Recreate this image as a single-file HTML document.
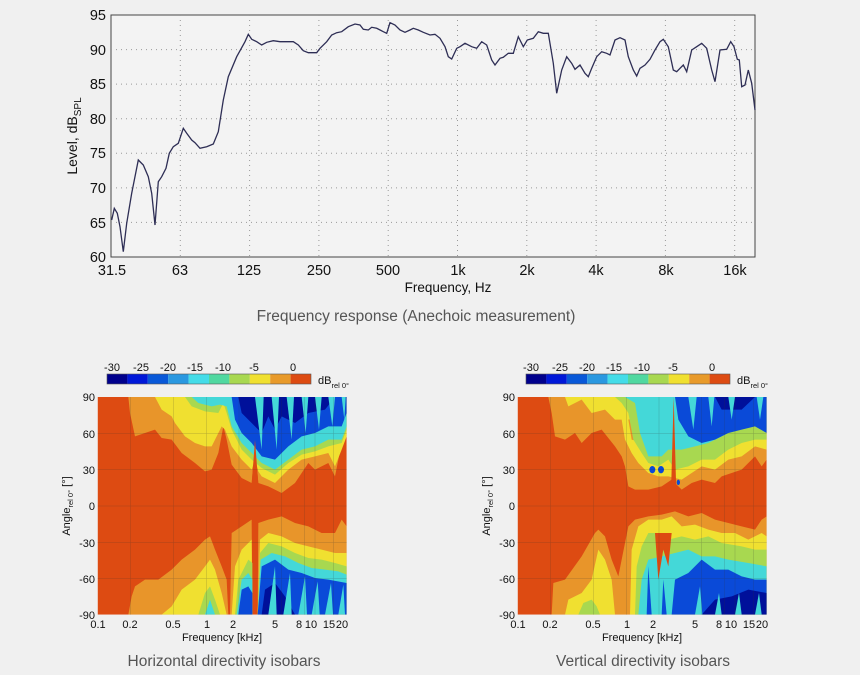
<!DOCTYPE html>
<html><head><meta charset="utf-8"><style>
html,body{margin:0;padding:0;background:#f0f0f0;}
body{width:860px;height:675px;overflow:hidden;position:relative;font-family:"Liberation Sans",sans-serif;}
svg{position:absolute;left:0;top:0;}
</style></head><body>
<svg width="860" height="675" viewBox="0 0 860 675" xmlns="http://www.w3.org/2000/svg" font-family="Liberation Sans, sans-serif">
<!-- top chart -->
<rect x="111" y="15" width="644" height="242" fill="#f3f3f3" stroke="#444" stroke-width="1"/>
<g stroke="#999" stroke-width="1" stroke-dasharray="1,4">
<line x1="111" y1="49.6" x2="755" y2="49.6"/><line x1="111" y1="84.1" x2="755" y2="84.1"/><line x1="111" y1="118.7" x2="755" y2="118.7"/><line x1="111" y1="153.3" x2="755" y2="153.3"/><line x1="111" y1="187.9" x2="755" y2="187.9"/><line x1="111" y1="222.4" x2="755" y2="222.4"/>
<line x1="180.3" y1="15" x2="180.3" y2="257"/><line x1="249.6" y1="15" x2="249.6" y2="257"/><line x1="318.9" y1="15" x2="318.9" y2="257"/><line x1="388.2" y1="15" x2="388.2" y2="257"/><line x1="457.5" y1="15" x2="457.5" y2="257"/><line x1="526.8" y1="15" x2="526.8" y2="257"/><line x1="596.1" y1="15" x2="596.1" y2="257"/><line x1="665.4" y1="15" x2="665.4" y2="257"/><line x1="734.7" y1="15" x2="734.7" y2="257"/>
</g>
<polyline fill="none" stroke="#2e2e55" stroke-width="1.3" points="111.7,220 114.3,208.3 117.3,213.3 120,226.7 123.3,251.7 126.7,223.3 131.7,193.3 138.3,160 143.3,165 148.3,176.7 151.7,193.3 155,225 158.3,181.7 161.7,176.7 166,168.3 169.3,153.3 173.3,146.7 178.3,143.3 183.3,128.3 186.7,133.3 191.7,140 195,142.7 200,148.3 206.7,146.7 213.3,144 218.3,131.7 223.3,100 228.3,76.7 236.7,56.7 245,41.7 248.3,34.3 251.7,39.3 256.7,41.7 261.7,45 266.7,42.3 273.3,40.7 280,41.7 286.7,41.7 293.3,41.7 298.3,45 303.3,50.7 308.3,52.7 316.7,52.7 320,48.3 326.7,41.7 331.7,35 336.7,32.7 341.7,31.7 348.3,26.7 355,24 360,25 363.3,29.3 368.3,30 371.7,27.3 376.7,28.3 383.3,31.7 386.7,33.3 390,22.7 395,25 400,30 405,32.3 410,30 413.3,28.3 418.3,30 423.3,32.3 430,35 435,34.3 440,38.3 445,46.7 448.3,56.7 451.7,59 456.7,48.3 460,46.7 465,43.3 471.7,46.7 476.7,48.3 481.7,41.7 486.7,45 491.7,60 495,65 500,58.3 503.3,57.3 508.3,53.3 513.3,53.3 518.3,36.7 523.3,46.7 527.3,40 533.3,38.3 538.3,31.7 543.3,33.3 548.3,33.3 553.3,63.3 556.7,93.3 561.7,70 566.7,56.7 571.7,63.3 575,69.3 580,65 585,73.3 588.3,76.7 591.7,68.3 596.7,56.7 601.7,51.7 606.7,53.3 610,55 615,40 620,37.7 625,40 628.3,56.7 633.3,70 636.7,76 640,68.3 645,65 650,59.3 655,50 660,41.7 663.3,39.3 668.3,46.7 673.3,70 676.7,71.7 680,68.3 683.3,65 686.7,71.7 691.7,50 696.7,46.7 701.7,43.3 706.7,48.3 711.7,70 715,81.7 720,50 726.7,49.3 730.7,41.7 734,46.7 737.3,59.3 739.3,60 741.7,86.7 745,85 748.3,70 751.7,83.3 755,110"/>
<g font-size="14.5" fill="#111" text-anchor="end">
<text x="106" y="20">95</text><text x="106" y="55">90</text><text x="106" y="89">85</text><text x="106" y="124">80</text><text x="106" y="158">75</text><text x="106" y="193">70</text><text x="106" y="228">65</text><text x="106" y="262">60</text>
</g>
<g font-size="14.5" fill="#111" text-anchor="middle">
<text x="112" y="275">31.5</text><text x="180" y="275">63</text><text x="249" y="275">125</text><text x="319" y="275">250</text><text x="388" y="275">500</text><text x="458" y="275">1k</text><text x="527" y="275">2k</text><text x="596" y="275">4k</text><text x="666" y="275">8k</text><text x="735" y="275">16k</text>
<text x="448" y="292" font-size="13.5">Frequency, Hz</text>
</g>
<text transform="translate(77,136) rotate(-90)" font-size="14" fill="#111" text-anchor="middle">Level, dB<tspan font-size="10" dy="4">SPL</tspan></text>
<text x="416" y="321" font-size="15.5" fill="#555" text-anchor="middle">Frequency response (Anechoic measurement)</text>

<!-- colorbars -->
<g id="cb">
<rect x="107" y="374" width="20.4" height="10" fill="#00008c"/><rect x="127.4" y="374" width="20.4" height="10" fill="#0018d8"/><rect x="147.8" y="374" width="20.4" height="10" fill="#0858d8"/><rect x="168.2" y="374" width="20.4" height="10" fill="#2a98e0"/><rect x="188.6" y="374" width="20.4" height="10" fill="#44dce8"/><rect x="209" y="374" width="20.4" height="10" fill="#50d8a0"/><rect x="229.4" y="374" width="20.4" height="10" fill="#a8d850"/><rect x="249.8" y="374" width="20.4" height="10" fill="#f0e030"/><rect x="270.2" y="374" width="20.4" height="10" fill="#e89a2a"/><rect x="290.6" y="374" width="20.4" height="10" fill="#dd4b12"/>
<rect x="107" y="374" width="204" height="10" fill="none" stroke="#555" stroke-width="0.6"/>
<g font-size="11" fill="#111" text-anchor="middle"><text x="112" y="371">-30</text><text x="141" y="371">-25</text><text x="168" y="371">-20</text><text x="195" y="371">-15</text><text x="223" y="371">-10</text><text x="254" y="371">-5</text><text x="293" y="371">0</text></g>
<text x="318" y="384" font-size="11" fill="#111">dB<tspan font-size="7.5" dy="4">rel 0°</tspan></text>
</g>
<use href="#cb" x="419"/>

<defs>
<clipPath id="cl"><rect x="8" y="12" width="747" height="653"/></clipPath>
<g id="grid" stroke="#333" stroke-width="1.5" opacity="0.3">
<line x1="8" y1="121" x2="755" y2="121"/><line x1="8" y1="230" x2="755" y2="230"/><line x1="8" y1="339" x2="755" y2="339"/><line x1="8" y1="448" x2="755" y2="448"/><line x1="8" y1="557" x2="755" y2="557"/>
<line x1="106" y1="12" x2="106" y2="665"/><line x1="235" y1="12" x2="235" y2="665"/><line x1="335" y1="12" x2="335" y2="665"/><line x1="432" y1="12" x2="432" y2="665"/><line x1="560" y1="12" x2="560" y2="665"/><line x1="628" y1="12" x2="628" y2="665"/><line x1="660" y1="12" x2="660" y2="665"/><line x1="715" y1="12" x2="715" y2="665"/>
</g>
</defs>

<!-- Horizontal heatmap (zoom coords, 3x) -->
<g transform="translate(95,393) scale(0.33333)">
<g clip-path="url(#cl)">
<rect x="8" y="12" width="747" height="653" fill="#dd4b12"/>
<polygon fill="#e8952a" points="100,12 105,60 120,130 150,120 180,110 200,135 230,140 260,180 300,210 330,235 350,230 370,180 385,100 395,140 410,215 440,255 470,270 480,150 490,270 520,280 560,300 600,270 640,210 660,230 700,210 720,250 740,150 755,100 755,12"/>
<polygon fill="#f0e030" points="180,12 200,50 230,70 240,90 270,130 300,150 330,160 350,160 380,100 390,110 410,160 440,200 470,230 480,200 490,235 500,250 540,270 580,230 620,200 660,190 700,180 720,220 740,170 755,130 755,12"/>
<polygon fill="#a8d850" points="270,12 290,40 330,55 370,60 385,30 395,60 410,110 440,170 470,200 500,225 540,245 580,210 620,185 660,175 700,160 740,150 755,110 755,12"/>
<polygon fill="#44d8d8" points="290,12 310,30 350,40 375,35 395,40 410,100 440,150 470,180 500,210 540,230 580,200 620,170 660,160 700,140 740,140 755,100 755,12"/>
<polygon fill="#0a4ad8" points="410,12 420,80 440,120 470,150 500,190 540,200 580,160 620,130 660,120 700,100 740,100 755,60 755,12"/>
<polygon fill="#00109a" points="430,12 440,60 470,90 500,120 520,70 540,110 560,70 600,90 640,60 690,50 720,12"/>
<g fill="#44d8d8">
<polygon points="480,12 500,170 506,12"/><polygon points="530,12 545,170 552,12"/><polygon points="575,12 590,140 597,12"/><polygon points="620,12 632,120 640,12"/><polygon points="660,12 672,110 680,12"/><polygon points="700,12 712,100 720,12"/><polygon points="740,12 748,80 752,12"/>
</g>
<polygon fill="#dd4b12" points="470,275 480,140 490,275"/>
<!-- lower -->
<polygon fill="#e8952a" points="100,665 110,610 120,580 150,560 190,560 230,530 260,500 300,470 330,440 345,430 360,470 380,520 395,560 400,665"/>
<polygon fill="#e8952a" points="405,665 410,420 440,400 470,380 472,665"/>
<polygon fill="#e8952a" points="488,665 490,390 520,380 560,370 600,390 640,400 680,420 720,420 740,380 755,400 755,665"/>
<polygon fill="#f0e030" points="200,665 230,640 260,590 300,560 330,520 345,500 360,530 380,600 395,665"/>
<polygon fill="#f0e030" points="410,665 420,520 440,470 470,440 472,665"/>
<polygon fill="#f0e030" points="488,665 495,440 520,420 560,430 600,450 640,460 680,470 720,480 755,480 755,665"/>
<polygon fill="#a8d850" points="310,665 330,600 345,580 360,620 375,665"/>
<polygon fill="#a8d850" points="420,665 430,560 460,500 472,510 472,665"/>
<polygon fill="#a8d850" points="488,665 495,480 520,450 560,460 600,480 640,495 680,500 720,510 755,520 755,665"/>
<polygon fill="#44d8d8" points="330,665 345,620 360,665"/>
<polygon fill="#44d8d8" points="425,665 440,560 460,540 472,560 472,665"/>
<polygon fill="#44d8d8" points="488,665 497,500 530,480 570,490 610,510 650,525 690,530 730,535 755,545 755,665"/>
<polygon fill="#0a4ad8" points="430,665 440,590 460,580 472,600 472,665"/>
<polygon fill="#0a4ad8" points="488,665 500,520 540,500 580,530 620,540 660,555 700,560 755,570 755,665"/>
<polygon fill="#00109a" points="500,665 510,590 540,570 570,610 600,665"/>
<g fill="#44d8d8">
<polygon points="520,665 540,520 545,665"/><polygon points="565,665 585,540 590,665"/><polygon points="610,665 630,550 636,665"/><polygon points="650,665 668,565 674,665"/><polygon points="690,665 708,570 714,665"/><polygon points="730,665 745,575 750,665"/>
</g>
</g>
<use href="#grid"/>
</g>

<!-- Vertical heatmap -->
<g transform="translate(515,393) scale(0.33333)">
<g clip-path="url(#cl)">
<rect x="8" y="12" width="747" height="653" fill="#dd4b12"/>
<polygon fill="#e8952a" points="100,12 110,60 120,130 150,140 180,120 200,150 230,120 260,110 300,160 320,190 330,220 340,280 360,290 400,290 440,280 470,260 500,290 530,270 560,260 600,270 620,250 680,230 720,190 740,220 755,200 755,12"/>
<polygon fill="#f0e030" points="150,12 160,40 200,20 230,60 270,50 300,80 320,80 330,140 350,180 370,210 400,240 430,250 460,250 500,260 530,240 560,220 600,230 640,200 680,190 720,160 755,170 755,12"/>
<polygon fill="#e8952a" points="340,80 380,70 390,150 350,140"/>
<polygon fill="#a8d850" points="300,12 320,30 340,60 355,140 380,180 400,210 430,220 460,200 480,230 520,220 560,200 600,200 640,170 680,150 720,140 755,140 755,12"/>
<polygon fill="#44d8d8" points="330,12 360,30 375,120 400,190 440,190 460,170 500,170 540,160 580,150 620,130 660,110 700,90 755,110 755,12"/>
<polygon fill="#0a4ad8" points="480,12 490,80 520,130 560,150 600,140 640,120 680,110 720,100 755,120 755,12"/>
<polygon fill="#00109a" points="600,12 620,50 680,50 720,12"/>
<g fill="#44d8d8"><polygon points="520,12 535,110 545,12"/><polygon points="580,12 590,100 598,12"/><polygon points="640,12 650,80 660,12"/><polygon points="725,12 735,80 745,12"/></g>
<polygon fill="#dd4b12" points="468,300 476,12 484,300"/>
<g fill="#0a4ad8"><ellipse cx="412" cy="230" rx="9" ry="11"/><ellipse cx="438" cy="230" rx="9" ry="11"/><ellipse cx="490" cy="268" rx="5" ry="8"/></g>
<!-- lower -->
<polygon fill="#e8952a" points="110,665 115,570 150,560 200,490 240,420 250,410 270,430 290,500 310,550 320,500 340,400 360,380 400,370 440,365 480,355 520,370 560,360 600,380 640,390 680,400 720,410 740,380 755,370 755,665"/>
<polygon fill="#f0e030" points="150,665 160,620 200,600 230,560 250,470 270,500 290,560 300,665"/>
<polygon fill="#f0e030" points="345,665 350,470 370,400 400,380 440,380 470,370 500,400 540,395 580,410 620,420 660,420 700,440 740,420 755,430 755,665"/>
<polygon fill="#a8d850" points="190,665 205,630 230,620 245,640 255,665"/>
<polygon fill="#a8d850" points="360,665 365,520 380,460 400,420 430,420 460,440 500,430 540,440 580,430 620,450 680,460 720,470 755,470 755,665"/>
<polygon fill="#44d8d8" points="370,665 380,560 400,500 440,490 480,480 520,470 560,490 600,490 640,500 700,510 755,520 755,665"/>
<polygon fill="#0a4ad8" points="470,665 480,560 520,540 560,500 600,530 640,530 680,550 720,560 755,560 755,665"/>
<polygon fill="#00109a" points="560,665 600,620 650,610 700,590 755,600 755,665"/>
<polygon fill="#dd4b12" points="420,420 430,560 445,470 460,520 470,420"/>
<g fill="#44d8d8"><polygon points="540,665 555,580 562,665"/><polygon points="600,665 612,600 620,665"/><polygon points="660,665 672,600 680,665"/><polygon points="720,665 732,600 740,665"/></g>
<g fill="#0a4ad8"><polygon points="395,665 400,520 410,665"/><polygon points="440,665 445,560 455,665"/></g>
</g>
<use href="#grid"/>
</g>

<!-- heatmap axes labels -->
<g id="hax" font-size="11" fill="#111">
<g text-anchor="end"><text x="95" y="401">90</text><text x="95" y="438">60</text><text x="95" y="474">30</text><text x="95" y="510">0</text><text x="95" y="547">-30</text><text x="95" y="583">-60</text><text x="95" y="619">-90</text></g>
<g text-anchor="middle"><text x="98" y="628">0.1</text><text x="130" y="628">0.2</text><text x="173" y="628">0.5</text><text x="207" y="628">1</text><text x="233" y="628">2</text><text x="275" y="628">5</text><text x="299" y="628">8</text><text x="311" y="628">10</text><text x="329" y="628">15</text><text x="342" y="628">20</text>
<text x="222" y="641">Frequency [kHz]</text></g>
<text transform="translate(70,506) rotate(-90)" text-anchor="middle" font-size="11">Angle<tspan font-size="7.5" dy="3">rel 0°</tspan><tspan dy="-3"> [°]</tspan></text>
</g>
<use href="#hax" x="420"/>

<text x="224" y="666" font-size="15.5" fill="#555" text-anchor="middle">Horizontal directivity isobars</text>
<text x="643" y="666" font-size="15.5" fill="#555" text-anchor="middle">Vertical directivity isobars</text>
</svg>
</body></html>
